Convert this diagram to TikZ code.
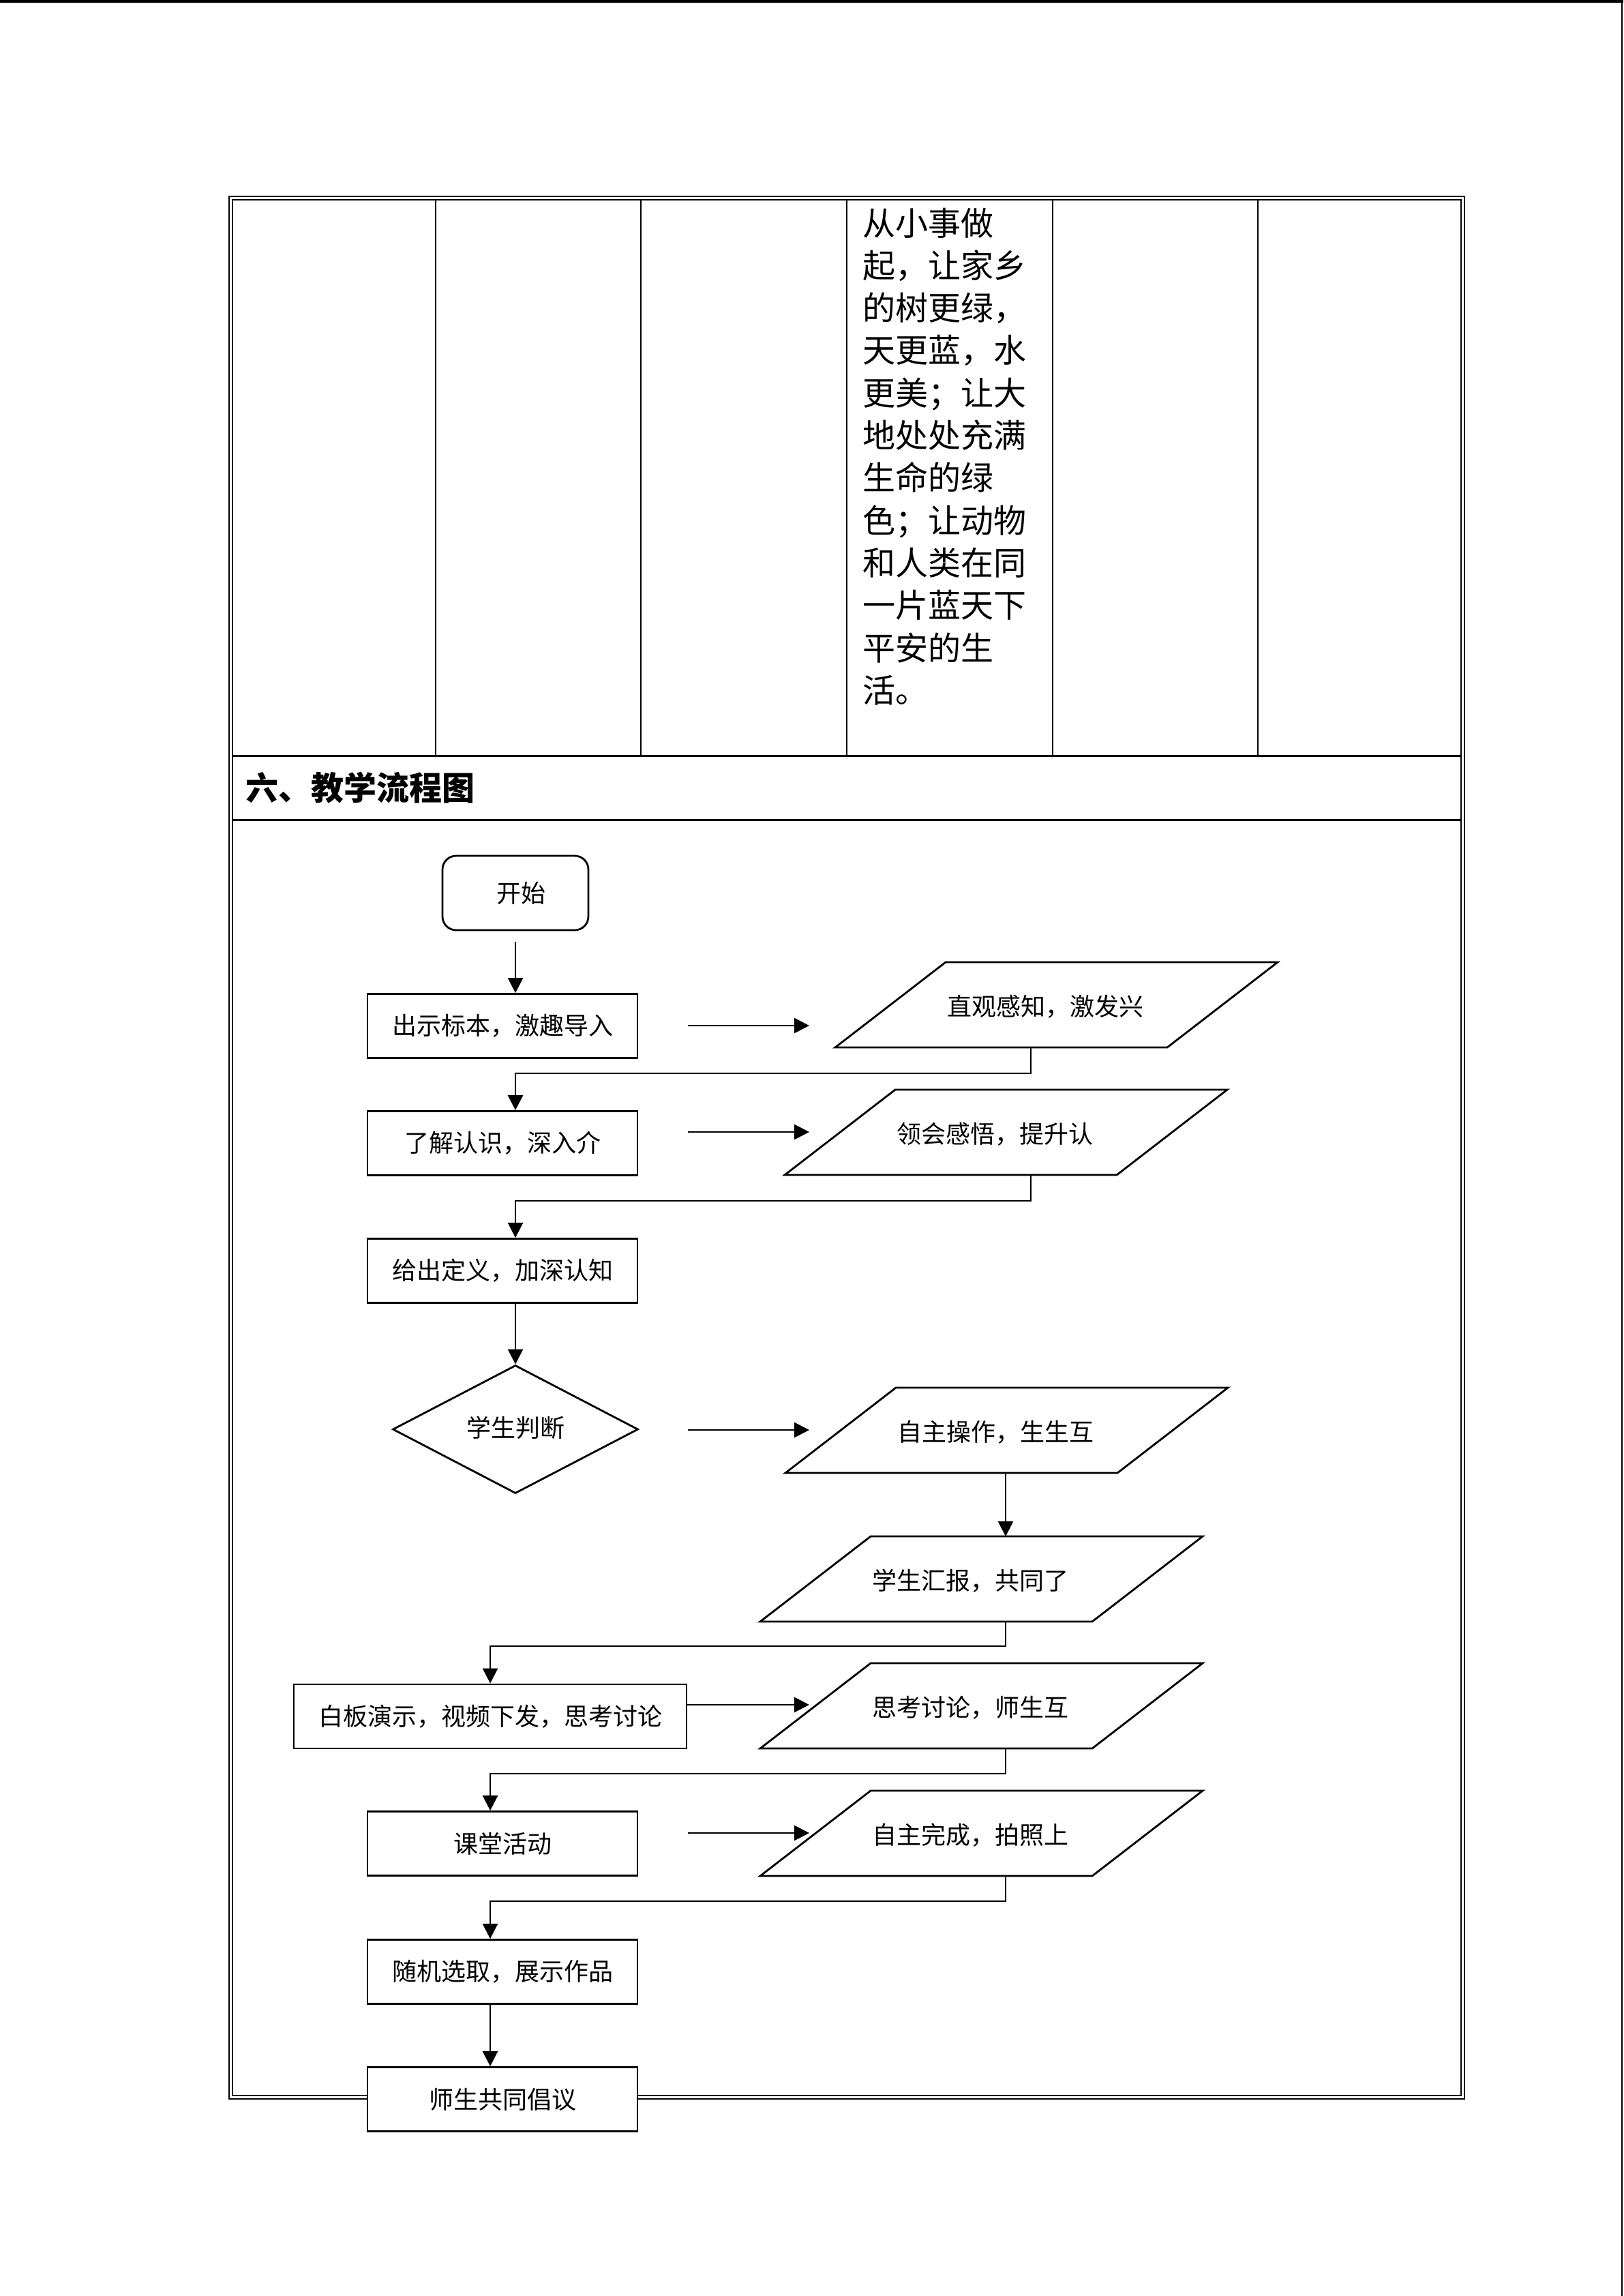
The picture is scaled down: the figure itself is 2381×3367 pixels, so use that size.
\documentclass[tikz,border=0pt]{standalone}
\usepackage{fontspec}
\newfontfamily\cjk{Noto Sans CJK SC}
\usetikzlibrary{arrows.meta,shapes.geometric}
\newcommand\flowpara[4]{%
  \draw[pline] (#2,#3+125) -- ++(487,0) -- ++(162,-125) -- ++(-487,0) -- cycle;
  \node[ptext] (#1) at (#2+308.5,#3+65.5) {#4};
}
\begin{document}
\begin{tikzpicture}[x=0.25pt,y=-0.25pt,
  tline/.style={line width=0.5pt},
  rowline/.style={line width=0.75pt},
  boxst/.style={draw,line width=0.7pt,fill=white,inner sep=0pt,minimum width=99pt,minimum height=23.5pt,font=\cjk\fontsize{9pt}{11pt}\selectfont},
  widebox/.style={boxst,minimum width=144pt},
  startst/.style={boxst,rounded corners=5pt,minimum width=53.5pt,minimum height=27.25pt},
  decst/.style={draw,line width=0.7pt,fill=white,shape=diamond,inner sep=0pt,minimum width=90pt,minimum height=47pt,font=\cjk\fontsize{9pt}{11pt}\selectfont},
  pline/.style={draw,line width=0.7pt,line join=miter},
  ptext/.style={inner sep=0pt,font=\cjk\fontsize{9pt}{11pt}\selectfont},
  conn/.style={line width=0.65pt,-{Triangle[length=5.5pt,width=5.5pt]}},
  elbow/.style={conn,rounded corners=0pt},
  coltext/.style={anchor=base west,inner sep=0pt,font=\cjk\fontsize{12pt}{15pt}\selectfont},
]
\useasboundingbox (0,0) rectangle (2381,3367);
% page edges
\draw[line width=1pt] (0,2) -- (2381,2);
\draw[line width=0.4pt] (2379,0) -- (2379,3367);

% table frame (double line)
\draw[line width=0.55pt] (336,288) rectangle (2148,3078);
\draw[line width=0.4pt] (341,293) rectangle (2143,3073);
\draw[rowline] (341,1108) -- (2143,1108);
\draw[rowline] (341,1202) -- (2143,1202);
\foreach \cx in {639,940,1242,1544,1845}
  \draw[tline] (\cx,293) -- (\cx,1108);

% column text
\foreach [count=\i from 0] \t in {从小事做,起，让家乡,的树更绿，,天更蓝，水,更美；让大,地处处充满,生命的绿,色；让动物,和人类在同,一片蓝天下,平安的生,活。}
  \node[coltext] (col\i) at (1265,345+62.3*\i) {\t};

% header
\node[anchor=west,inner sep=0pt,font=\cjk\bfseries\fontsize{12pt}{14pt}\selectfont] (hdr) at (360,1155) {六、教学流程图};

% flowchart nodes
\node[startst] (start) at (756,1309.5) {\hspace*{4pt}开始};
\node[boxst] (b1) at (737,1504.5) {出示标本，激趣导入};
\node[boxst] (b2) at (737,1676.5) {了解认识，深入介};
\node[boxst] (b3) at (737,1863.5) {给出定义，加深认知};
\node[decst] (d) at (756,2096) {\raisebox{1.7pt}{学生判断}};
\node[widebox] (b4) at (719,2517) {白板演示，视频下发，思考讨论};
\node[boxst] (b5) at (737,2703.5) {课堂活动};
\node[boxst] (b6) at (737,2891.5) {随机选取，展示作品};

\flowpara{p1}{1225}{1411}{直观感知，激发兴}
\flowpara{p2}{1151}{1598}{领会感悟，提升认}
\flowpara{p3}{1152}{2035}{自主操作，生生互}
\flowpara{p4}{1115}{2253}{学生汇报，共同了}
\flowpara{p5}{1115}{2439}{思考讨论，师生互}
\flowpara{p6}{1115}{2626}{自主完成，拍照上}

% helper coordinates
\coordinate (spineA) at (756,0);
\coordinate (spineB) at (719,0);
\coordinate (p1b) at (1512,1536);
\coordinate (p2b) at (1512,1723);
\coordinate (p3b) at (1475,2160);
\coordinate (p4t) at (1475,2253);
\coordinate (p4b) at (1475,2378);
\coordinate (p5b) at (1475,2564);
\coordinate (p6b) at (1475,2751);
\coordinate (h1s) at (1009,1504);
\coordinate (h1e) at (1187,1504);
\coordinate (h2s) at (1009,1660);
\coordinate (h2e) at (1187,1660);
\coordinate (h3s) at (1009,2097);
\coordinate (h3e) at (1187,2097);
\coordinate (h4s) at (1007,2500);
\coordinate (h4e) at (1187,2500);
\coordinate (h5s) at (1009,2688);
\coordinate (h5e) at (1187,2688);

% connectors
\draw[conn,shorten <=4pt] (start.south) -- (start.south |- b1.north);
\draw[elbow] (p1b) -- ++(0,38) -| (spineA |- b2.north);
\draw[elbow] (p2b) -- ++(0,38) -| (spineA |- b3.north);
\draw[conn] (spineA |- b3.south) -- (d.north);
\draw[conn] (p3b) -- (p4t);
\draw[elbow] (p4b) -- ++(0,36) -| (b4.north);
\draw[elbow] (p5b) -- ++(0,37) -| (spineB |- b5.north);
\draw[elbow] (p6b) -- ++(0,37) -| (spineB |- b6.north);
\draw[conn] (h1s) -- (h1e);
\draw[conn] (h2s) -- (h2e);
\draw[conn] (h3s) -- (h3e);
\draw[conn] (h4s) -- (h4e);
\draw[conn] (h5s) -- (h5e);

% last box over the table border
\node[boxst] (b7) at (737,3078.5) {师生共同倡议};
\draw[conn] (spineB |- b6.south) -- (spineB |- b7.north);
\end{tikzpicture}
\end{document}
